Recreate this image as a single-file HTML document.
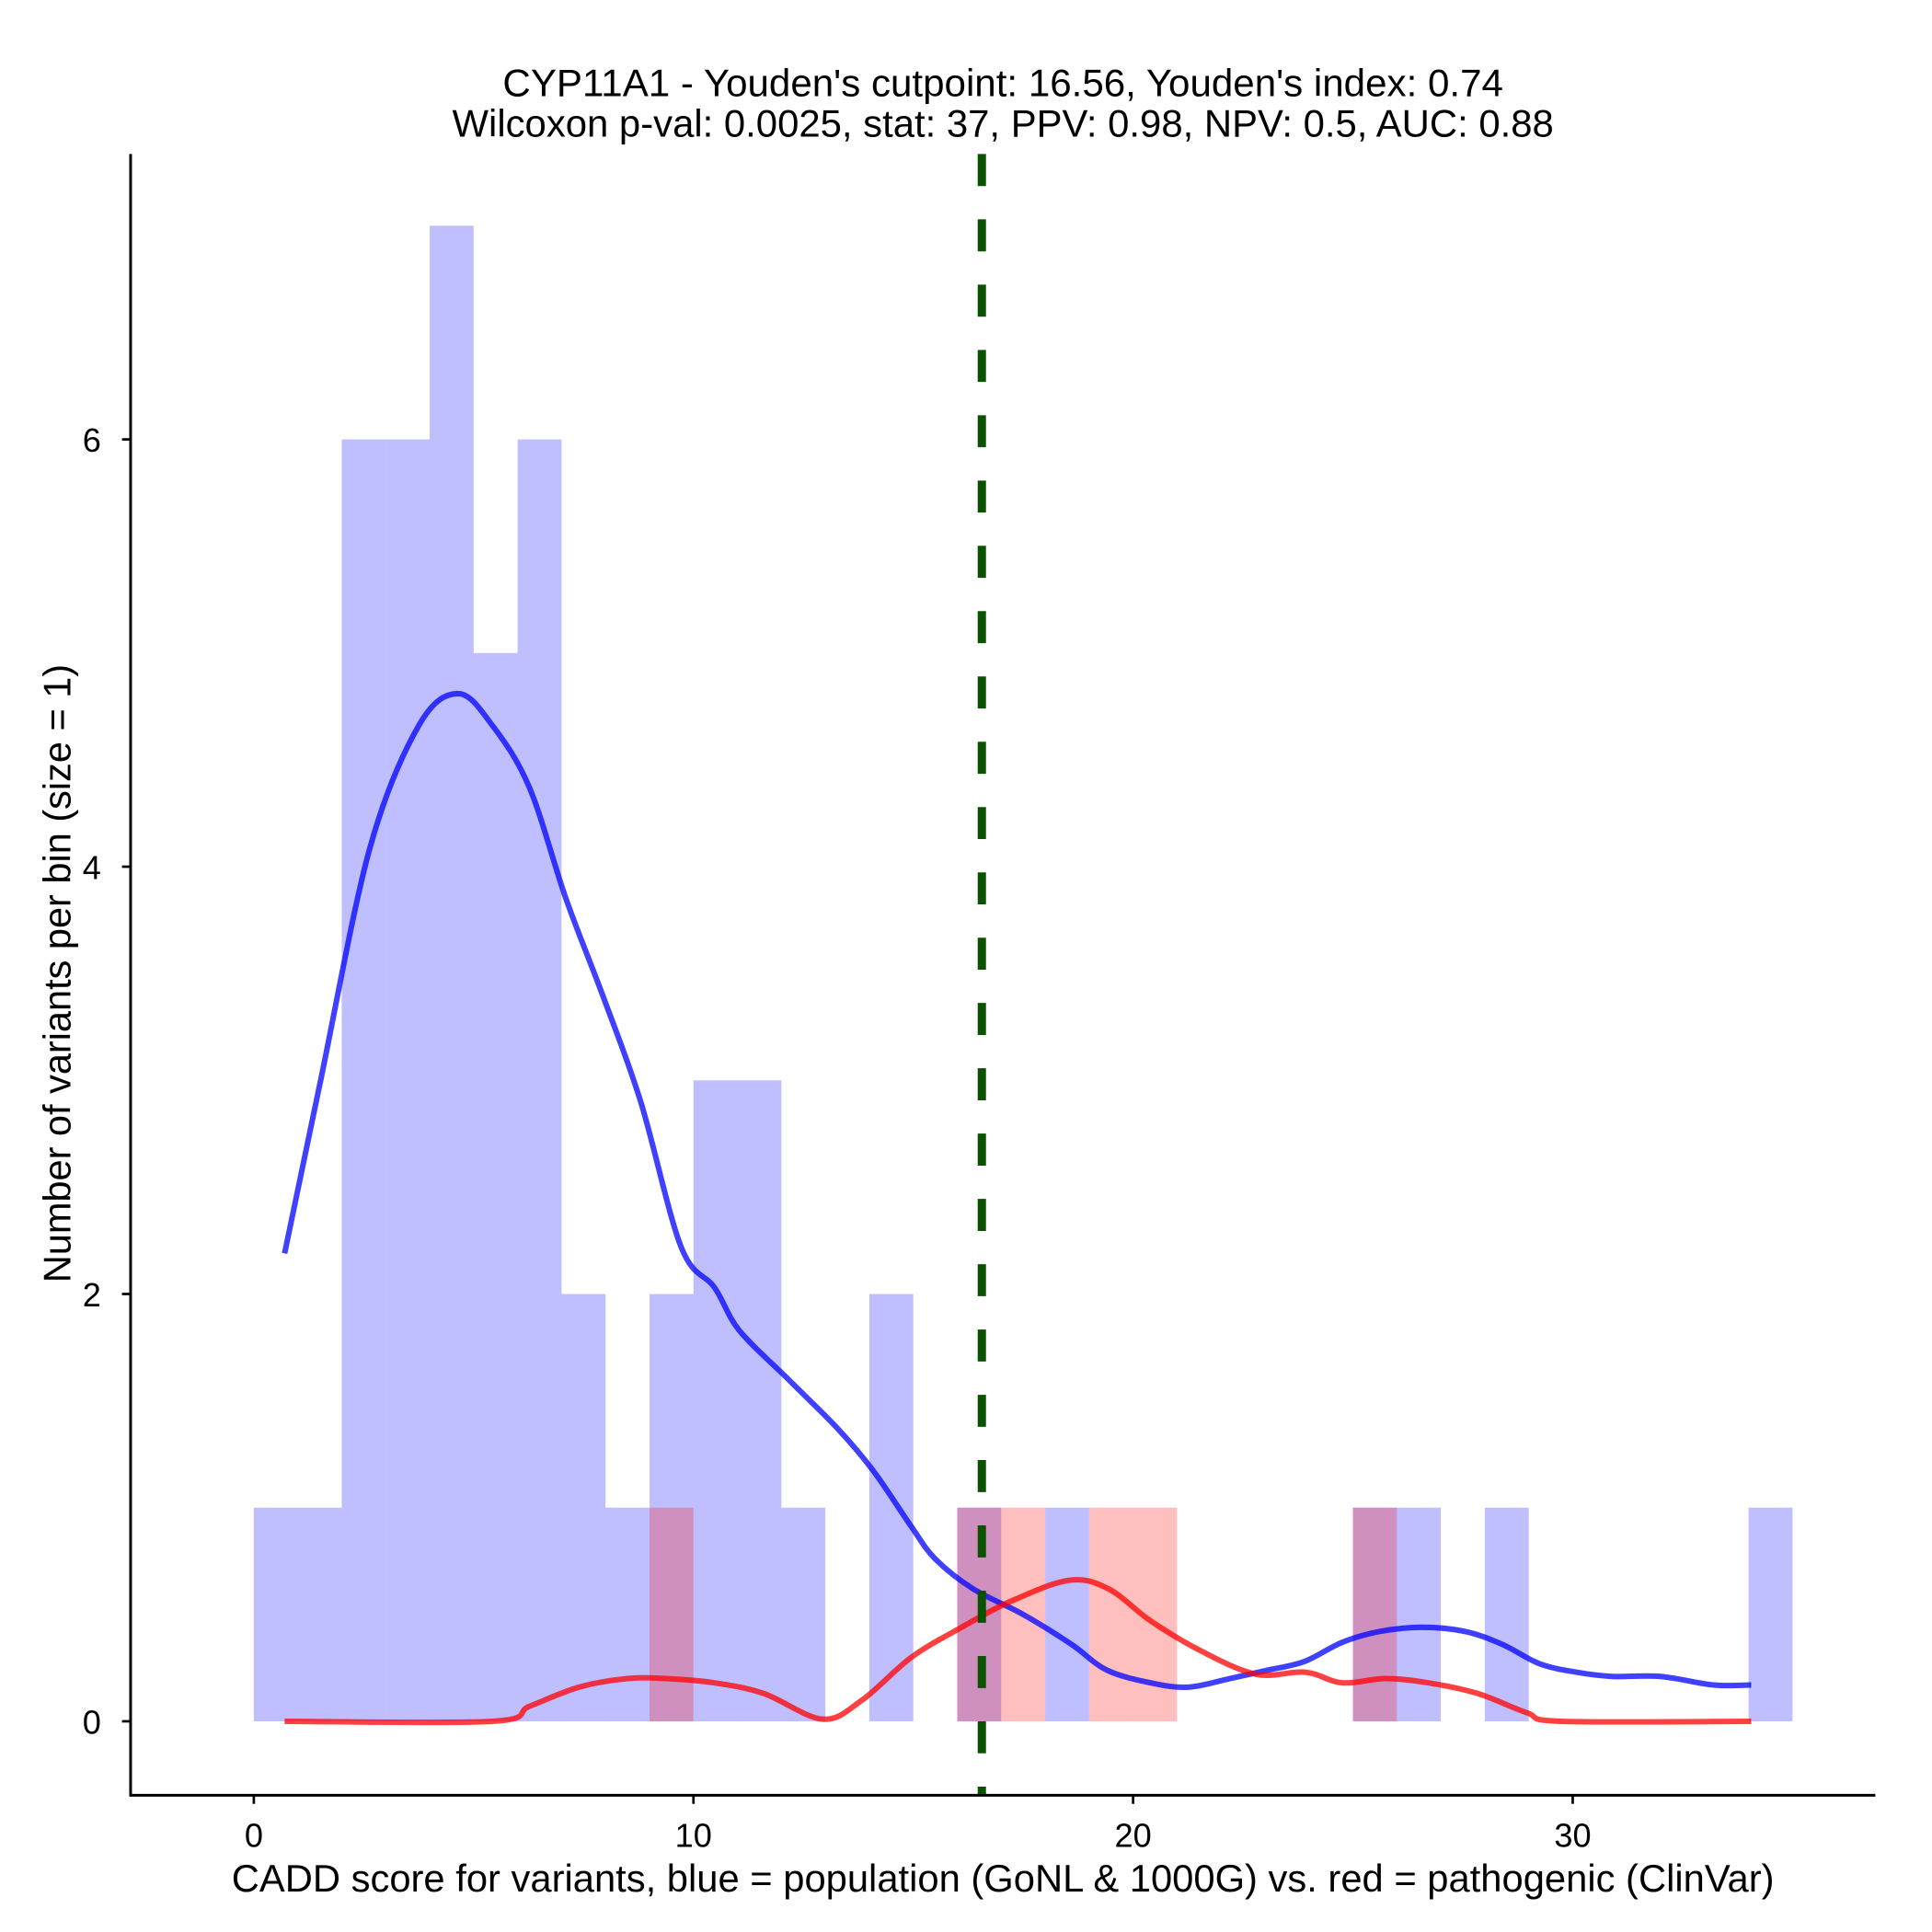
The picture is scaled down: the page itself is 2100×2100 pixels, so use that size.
<!DOCTYPE html>
<html><head><meta charset="utf-8"><style>html,body{margin:0;padding:0;background:#fff}svg{display:block}text{font-family:"Liberation Sans",Arial,sans-serif;fill:#000}</style></head>
<body>
<svg id="chart" width="2100" height="2100" viewBox="0 0 1568 1568" xmlns="http://www.w3.org/2000/svg">
<g id="bars"></g>
<g id="curves"></g>
<line id="cut" y1="125" y2="1457" stroke="#0b5200" stroke-width="6.7" stroke-dasharray="26,27"/>
<line x1="106" y1="125" x2="106" y2="1458" stroke="#000" stroke-width="2.2"/>
<line x1="105" y1="1457" x2="1522" y2="1457" stroke="#000" stroke-width="2.2"/>
<g id="axes"></g>
<text x="814" y="78" font-size="31" text-anchor="middle" textLength="812" lengthAdjust="spacingAndGlyphs">CYP11A1 - Youden's cutpoint: 16.56, Youden's index: 0.74</text>
<text x="814" y="111" font-size="31" text-anchor="middle" textLength="894" lengthAdjust="spacingAndGlyphs">Wilcoxon p-val: 0.0025, stat: 37, PPV: 0.98, NPV: 0.5, AUC: 0.88</text>
<text x="814" y="1535" font-size="31" text-anchor="middle" textLength="1252" lengthAdjust="spacingAndGlyphs">CADD score for variants, blue = population (GoNL &amp; 1000G) vs. red = pathogenic (ClinVar)</text>
<text transform="translate(57,790) rotate(-90)" font-size="31" text-anchor="middle" textLength="502" lengthAdjust="spacingAndGlyphs">Number of variants per bin (size = 1)</text>
</svg>
<script>
const blueCounts=[1,1,6,6,7,5,6,2,1,2,3,3,1,0,2,0,1,0,1,0,0,0,0,0,0,1,1,0,1,0,0,0,0,0,1];
const redCounts=[0,0,0,0,0,0,0,0,0,1,0,0,0,0,0,0,1,1,0,1,1,0,0,0,0,1,0,0,0,0,0,0,0,0,0];
const blueDensX=[0.7,1.5,2.63,3.75,4.65,5.43,6.27,7.1,7.95,8.8,9.72,10.48,11.04,12.16,13.28,14.1,14.96,15.5,16.36,17.5,18.6,19.4,20.4,21.26,22.2,23.08,23.9,24.76,25.6,26.58,27.56,28.4,29.24,30.08,30.9,32.0,33.2,34.06];
const blueDensY=[2.19,2.98,4.08,4.66,4.81,4.66,4.37,3.85,3.39,2.9,2.22,2.03,1.83,1.6,1.37,1.17,0.91,0.76,0.62,0.5,0.36,0.24,0.18,0.16,0.2,0.24,0.28,0.37,0.42,0.44,0.42,0.36,0.27,0.23,0.21,0.21,0.17,0.17];
const redDensX=[0.7,5.43,6.27,7.4,8.5,9.36,10.48,11.6,12.94,13.84,14.96,16.1,17.2,18.54,19.44,20.4,21.54,22.8,23.92,24.76,25.74,26.72,27.84,28.96,29.75,34.06];
const redDensY=[0,0,0.07,0.16,0.2,0.2,0.18,0.13,0.01,0.1,0.3,0.44,0.56,0.66,0.62,0.47,0.33,0.22,0.23,0.18,0.2,0.18,0.13,0.04,0,0];
const cutpoint=16.56;
const xTicks=[0,10,20,30];
const yTicks=[0,2,4,6];
const NS="http://www.w3.org/2000/svg";
const xs=v=>206+v*35.68, ys=v=>1397-v*173.4;
function mk(tag,attrs,parent){const e=document.createElementNS(NS,tag);for(const k in attrs)e.setAttribute(k,attrs[k]);parent.appendChild(e);return e;}
const bars=document.getElementById('bars');
blueCounts.forEach((c,i)=>{if(!c)return;const r=mk('rect',{x:xs(i),y:ys(c),width:xs(i+1)-xs(i),height:ys(0)-ys(c),fill:'#0000ff','fill-opacity':0.25},bars);

});
redCounts.forEach((c,i)=>{if(!c)return;const r=mk('rect',{x:xs(i),y:ys(c),width:xs(i+1)-xs(i),height:ys(0)-ys(c),fill:'#ff0000','fill-opacity':0.25},bars);

});
const curves=document.getElementById('curves');
function smooth(X,Y){const P=X.map((x,i)=>[xs(x),ys(Y[i])]);let d='M'+P[0][0]+','+P[0][1];
for(let i=0;i<P.length-1;i++){const p0=P[Math.max(0,i-1)],p1=P[i],p2=P[i+1],p3=P[Math.min(P.length-1,i+2)];
const c1=[p1[0]+(p2[0]-p0[0])/6,p1[1]+(p2[1]-p0[1])/6],c2=[p2[0]-(p3[0]-p1[0])/6,p2[1]-(p3[1]-p1[1])/6];
d+=' C'+c1+' '+c2+' '+p2;}return d;}
function line(X,Y,col,name){const p=mk('path',{d:smooth(X,Y),fill:'none',stroke:col,'stroke-width':4.5,'stroke-opacity':0.75,'stroke-linejoin':'round'},curves);

}
line(blueDensX,blueDensY,'#0000ff','blue-density-curve');
line(redDensX,redDensY,'#ff0000','red-density-curve');
const cut=document.getElementById('cut');cut.setAttribute('x1',xs(cutpoint));cut.setAttribute('x2',xs(cutpoint));
const ax=document.getElementById('axes');
xTicks.forEach(t=>{mk('line',{x1:xs(t),x2:xs(t),y1:1457,y2:1464,stroke:'#000','stroke-width':2},ax);
const tx=mk('text',{x:xs(t),y:1499,'font-size':27,'text-anchor':'middle'},ax);tx.textContent=t;

});
yTicks.forEach(t=>{mk('line',{x1:99,x2:106,y1:ys(t),y2:ys(t),stroke:'#000','stroke-width':2},ax);
const tx=mk('text',{x:82,y:ys(t)+10,'font-size':27,'text-anchor':'end'},ax);tx.textContent=t;

});
</script>
</body></html>
